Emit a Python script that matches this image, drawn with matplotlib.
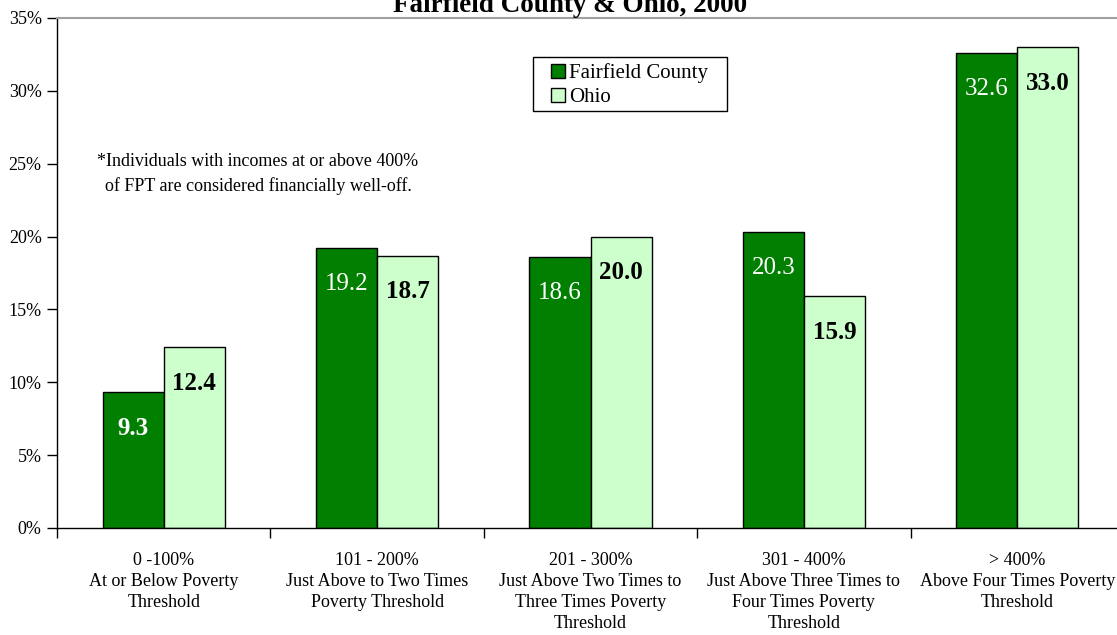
import matplotlib
matplotlib.use("Agg")
import matplotlib.pyplot as plt
from matplotlib.patches import Rectangle
import numpy as np

categories = [
    "0 -100%\nAt or Below Poverty\nThreshold",
    "101 - 200%\nJust Above to Two Times\nPoverty Threshold",
    "201 - 300%\nJust Above Two Times to\nThree Times Poverty\nThreshold",
    "301 - 400%\nJust Above Three Times to\nFour Times Poverty\nThreshold",
    "> 400%\nAbove Four Times Poverty\nThreshold",
]
fairfield = [9.3, 19.2, 18.6, 20.3, 32.6]
ohio = [12.4, 18.7, 20.0, 15.9, 33.0]
fairfield_bold = [True, False, False, False, False]
yticks = [0, 5, 10, 15, 20, 25, 30, 35]

plt.rcParams['font.family'] = ['Liberation Serif', 'DejaVu Serif']

W, H = 1117, 635
fig = plt.figure(figsize=(W / 100, H / 100), dpi=100)
ax = fig.add_axes([57 / W, 1 - 528 / H, (1124 - 57) / W, 510 / H])

x = np.arange(len(categories))
bw = 0.286
dark = '#007F00'
light = '#CCFFCC'
ax.bar(x - bw / 2, fairfield, bw, color=dark, edgecolor='black', linewidth=1.0, label='Fairfield County')
ax.bar(x + bw / 2, ohio, bw, color=light, edgecolor='black', linewidth=1.0, label='Ohio')

for xi, v, bold in zip(x, fairfield, fairfield_bold):
    ax.annotate(f"{v:.1f}", (xi - bw / 2, v), xytext=(0, -26), textcoords='offset points',
                ha='center', va='center', color='white', fontsize=18,
                fontweight='bold' if bold else 'normal')
for xi, v in zip(x, ohio):
    ax.annotate(f"{v:.1f}", (xi + bw / 2, v), xytext=(0, -26), textcoords='offset points',
                ha='center', va='center', color='black', fontsize=18, fontweight='bold')

ax.set_xlim(-0.5, len(categories) - 0.5)
ax.set_ylim(0, 35)
ax.set_yticks(yticks)
ax.set_yticklabels([f"{t}%" for t in yticks], fontsize=13)
ax.set_xticks(x)
ax.set_xticklabels(categories, fontsize=13, linespacing=1.32)
ax.tick_params(axis='x', which='major', length=0, pad=17)
ax.set_xticks(np.arange(-0.5, len(categories) - 0.5, 1.0), minor=True)
ax.tick_params(axis='x', which='minor', length=7, width=1, direction='out')
ax.tick_params(axis='y', length=7, width=1, direction='out', pad=4)

ax.spines['right'].set_visible(False)
ax.spines['top'].set_color('#A0A0A0')
ax.spines['top'].set_linewidth(1.5)
ax.spines['left'].set_linewidth(1.0)
ax.spines['bottom'].set_linewidth(1.0)

# legend frame (drawn separately for wider horizontal padding)
fig.patches.append(Rectangle((533 / W, 1 - 111 / H), (727 - 533) / W, (111 - 57) / H,
                             transform=fig.transFigure, facecolor='white', edgecolor='black',
                             linewidth=1.0, zorder=5))
leg = fig.legend(*ax.get_legend_handles_labels(), loc='upper left',
                 bbox_to_anchor=(551 / W, 1 - 63 / H), bbox_transform=fig.transFigure,
                 fontsize=15, frameon=False,
                 handlelength=0.65, handleheight=0.65, handletextpad=0.2, borderpad=0,
                 labelspacing=0.25, borderaxespad=0)
leg.set_zorder(6)
for h in leg.legend_handles:
    h.set_linewidth(1.0)

fig.text(258 / W, 1 - 174 / H, "*Individuals with incomes at or above 400%\nof FPT are considered financially well-off.",
         ha='center', va='center', fontsize=13, linespacing=1.45)

fig.text(570 / W, 1 - 11.5 / H, "Fairfield County & Ohio, 2000", ha='center', va='baseline',
         fontsize=19.5, fontweight='bold')

fig.savefig('out.png', dpi=100)
